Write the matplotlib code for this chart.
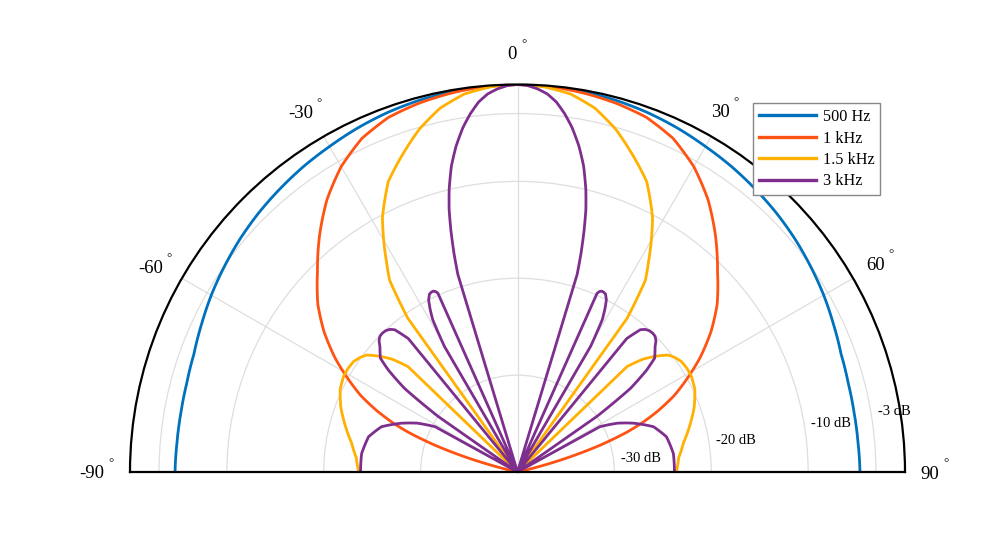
import numpy as np
import matplotlib
matplotlib.use('Agg')
import matplotlib.pyplot as plt

plt.rcParams['path.simplify'] = False

# ---------------- data (half patterns, 0..90 deg, mirrored for -90..0) -------------
ang_500 = [0, 5, 10, 15, 20, 25, 30, 35, 40, 45, 50, 55, 60, 65, 70, 75, 80, 85, 90]
db_500 = [0, -0.04, -0.15, -0.32, -0.55, -0.85, -1.2, -1.5, -1.85, -2.2, -2.6, -3.05,
          -3.5, -4.0, -4.45, -4.65, -4.72, -4.72, -4.65]

ang_1k = [0, 5, 10, 15, 20, 25, 30, 35, 40, 45, 50, 54, 58, 61, 64, 66.5, 68.5, 70, 72,
          74, 76, 77.5, 90]
db_1k = [0, -0.08, -0.3, -0.6, -1.05, -2.0, -3.6, -5.7, -8.2, -10.8, -13.1, -15.3, -17.8,
         -19.9, -22.0, -24.2, -26.2, -28.0, -31.0, -34.5, -38.0, -40, -40]

ang_1k5 = [0, 4, 8, 12, 16, 20, 24, 28, 30.6, 32, 33.7, 35.5, 35.5, 46.1, 46.1, 48, 50,
           52.2, 54, 56, 58.5, 61, 65, 70, 75, 80, 85, 90]
db_1k5 = [0, -0.15, -0.6, -1.6, -3.2, -5.2, -7.2, -10.3, -13.0, -14.5, -16.2, -20.5, -40,
          -40, -24.3, -22.6, -21.4, -20.3, -19.9, -19.6, -19.5, -19.5, -19.8, -20.6, -21.6,
          -22.6, -23.3, -23.6]

ang_3k = [0, 1.5, 3, 4.5, 6, 7.5, 9, 10.7, 12.2, 13.6, 14.6, 15.4, 16.2, 16.8, 16.8,
          24.0, 24.0, 24.4, 24.9, 25.4, 26.3, 27.3, 28.2, 29.1, 30.2, 30.2,
          39.3, 39.3, 40.8, 41.8, 43.0, 44.3, 45.4, 46.5, 47.7, 49, 50.3, 51.7, 53.5, 55,
          55,
          61.2, 61.2, 64, 67.2, 71.6, 76.7, 83.2, 90]
db_3k = [0, -0.1, -0.4, -0.85, -1.6, -2.7, -4.0, -5.8, -7.7, -10.0, -12.0, -14.1, -16.5,
         -18.7, -40,
         -40, -19.8, -19.55, -19.42, -19.4, -19.5, -20.0, -20.9, -22.0, -25.0, -40,
         -40, -22.2, -20.6, -20.25, -20.05, -20.0, -20.05, -20.3, -20.8, -21.2, -21.6,
         -23.0, -25.5, -30, -40,
         -40, -30.3, -28.5, -27.0, -25.2, -24.2, -23.8, -23.8]

series_labels = ['500 Hz', '1 kHz', '1.5 kHz', '3 kHz']
series_colors = ['#0072BD', '#FF5314', '#FFB000', '#7E2F8E']

theta_ticks = [-90, -60, -30, 0, 30, 60, 90]
theta_tick_labels = ['-90', '-60', '-30', '0', '30', '60', '90']
r_levels = [-30, -20, -10, -3]
r_level_labels = ['-30 dB', '-20 dB', '-10 dB', '-3 dB']
R_MIN, R_MAX = -40, 0

# label placement (angle deg, radius in dB units)
theta_label_pos = [(-90.2, 3.97), (-61.0, 3.31), (-31.2, 3.25), (-0.7, 3.05),
                   (29.4, 2.59), (59.96, 2.68), (90.3, 2.58)]
r_label_pos = [(83.86, -27.16), (81.93, -17.20), (81.25, -7.23), (80.95, -0.62)]

SERIF = ['Liberation Serif', 'DejaVu Serif']


def mirror(a, d):
    a = np.asarray(a, float)
    d = np.asarray(d, float)
    th = np.concatenate([-a[:0:-1], a])
    dd = np.concatenate([d[:0:-1], d])
    return np.deg2rad(th), np.clip(dd, R_MIN, R_MAX)


FW, FH = 1000.0, 556.0
diam = 775.0
cx, base_y = 517.5, 472.0
box_cy = base_y - diam / 4.0           # pixel (from top) of square box centre
fig = plt.figure(figsize=(10, 5.56), dpi=100)
ax = fig.add_axes([(cx - diam / 2) / FW, (FH - (box_cy + diam / 2)) / FH,
                   diam / FW, diam / FH], projection='polar')
ax.set_theta_zero_location('N')
ax.set_theta_direction(-1)
ax.set_thetamin(-90)
ax.set_thetamax(90)
ax.set_ylim(R_MIN, R_MAX)

ax.set_yticks(r_levels)
ax.set_yticklabels([])
ax.set_xticks(np.deg2rad(theta_ticks))
ax.set_xticklabels([])
ax.tick_params(length=0)
ax.grid(True, color='#dedede', lw=0.9)

for name in ('polar', 'start', 'end'):
    ax.spines[name].set_color('black')
    ax.spines[name].set_linewidth(1.6)
ax.spines['inner'].set_visible(False)

data = [(ang_500, db_500), (ang_1k, db_1k), (ang_1k5, db_1k5), (ang_3k, db_3k)]
for (a, d), lab, col in zip(data, series_labels, series_colors):
    th, rr = mirror(a, d)
    ln, = ax.plot(th, rr, color=col, lw=2.0, label=lab, solid_joinstyle='round')
    ln.get_path()._interpolation_steps = 40   # draw polar segments as arcs

# radial level labels
for (t, r), txt in zip(r_label_pos, r_level_labels):
    ax.text(np.deg2rad(t), r, txt, ha='center', va='center', fontsize=10.5,
            family=SERIF, clip_on=False)

# angle labels with small degree marks
num_texts = []
for (t, r), txt in zip(theta_label_pos, theta_tick_labels):
    tx = ax.text(np.deg2rad(t), r, txt, ha='center', va='center', fontsize=13.5,
                 family=SERIF, clip_on=False)
    num_texts.append(tx)

leg = ax.legend(loc='upper left', bbox_to_anchor=(0.753, 1 - 103 / 556),
                bbox_transform=fig.transFigure, prop={'family': SERIF, 'size': 11.7},
                frameon=True, fancybox=False, framealpha=1, edgecolor='#888888',
                handlelength=3.5, handletextpad=0.4, borderpad=0.38,
                labelspacing=0.33, borderaxespad=0)
leg.get_frame().set_linewidth(1.0)
for lnl in leg.get_lines():
    lnl.set_linewidth(2.4)

fig.canvas.draw()
ren = fig.canvas.get_renderer()
W, H = fig.bbox.width, fig.bbox.height
for tx in num_texts:
    bb = tx.get_window_extent(ren)
    xd = bb.x1 + 6.5
    yd = 0.5 * (bb.y0 + bb.y1) + 10.5
    fig.text(xd / W, yd / H, '\u00b0', ha='center', va='center', fontsize=9.5,
             family=SERIF)

fig.savefig('out.png', dpi=100)
